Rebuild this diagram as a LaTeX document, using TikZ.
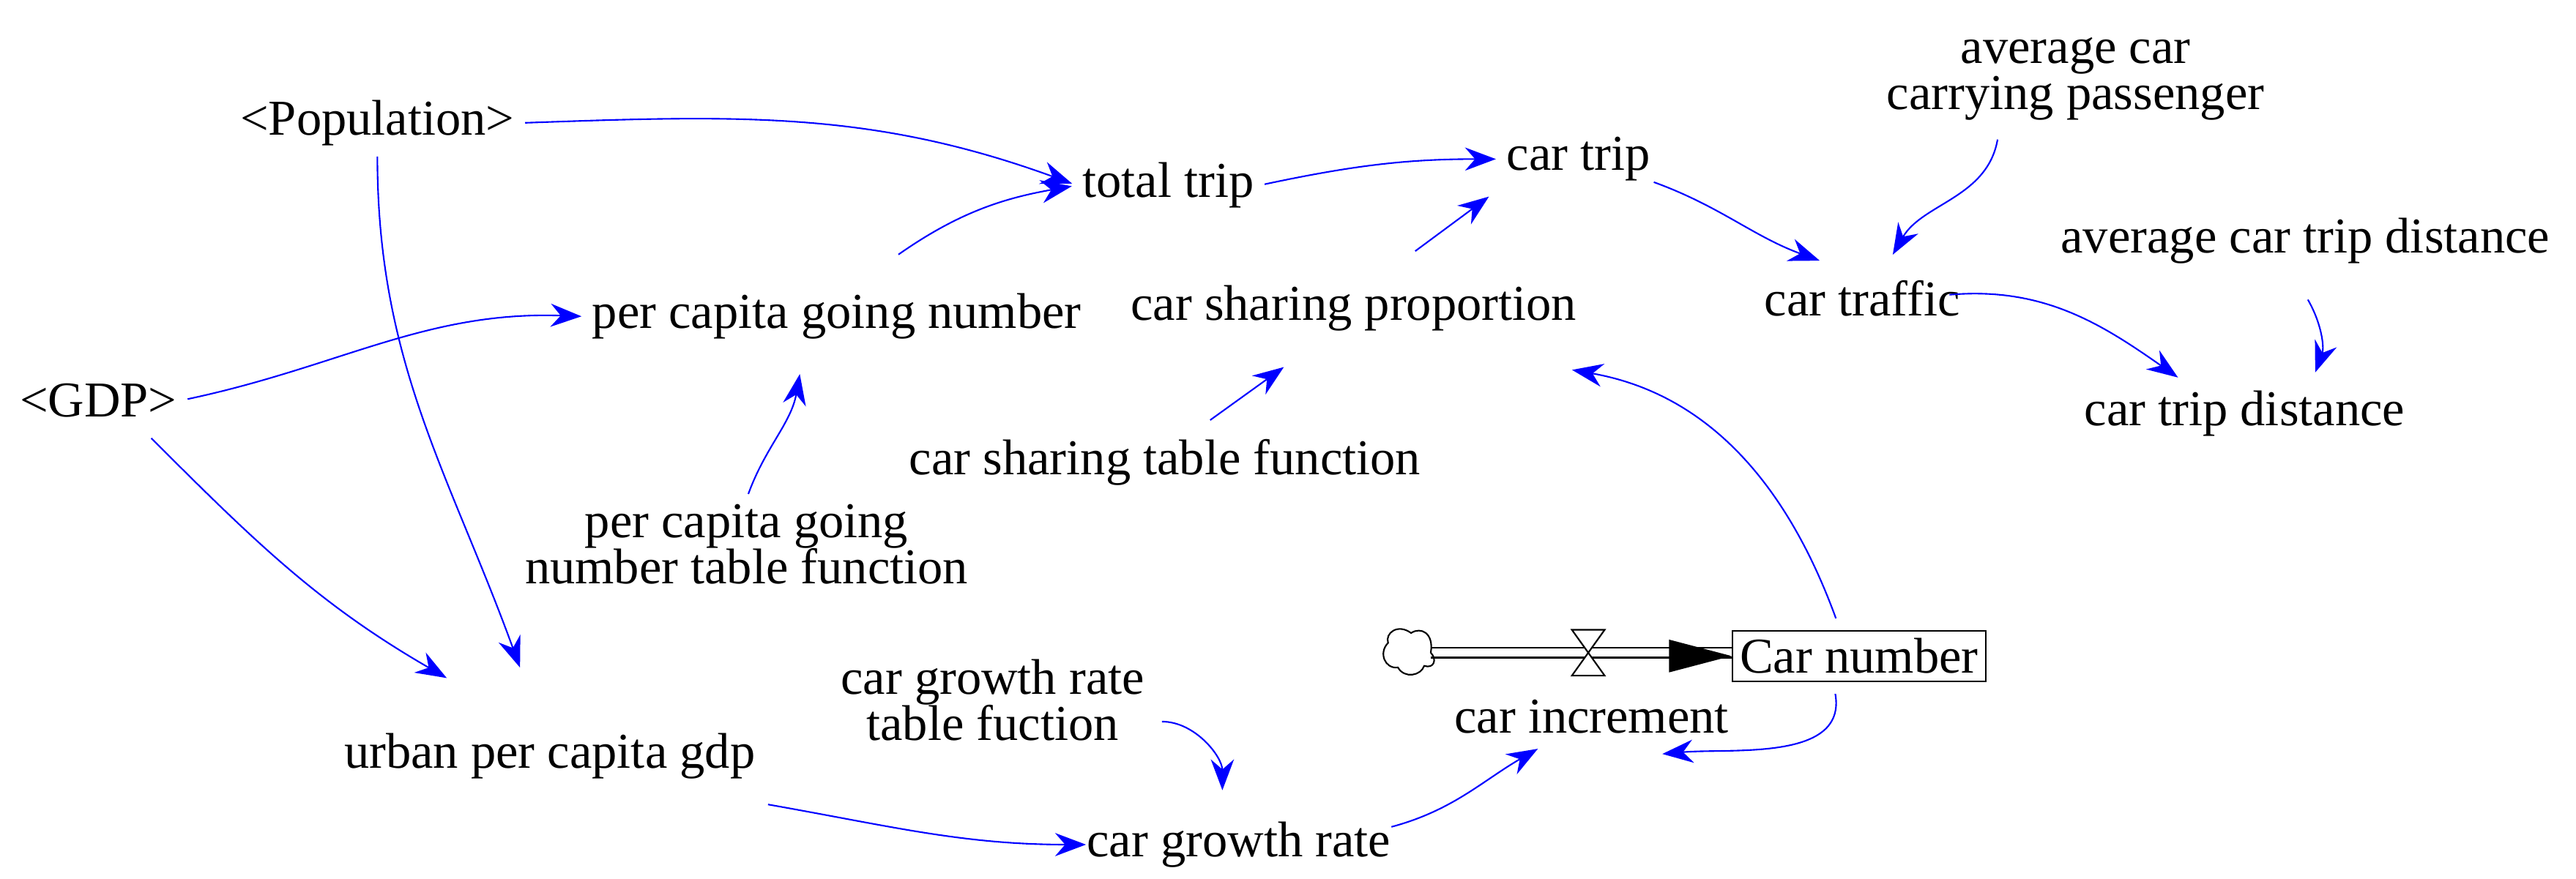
\documentclass[tikz,border=0pt]{standalone}
\usepackage{fontspec}
\setmainfont{Liberation Serif}
\usetikzlibrary{arrows.meta}
\begin{document}
\begin{tikzpicture}[x=0.02241cm,y=-0.02241cm,
  lbl/.style={font=\fontsize{19.5}{22}\selectfont, inner sep=2pt, align=center},
  lk/.style={draw=blue, line width=0.6pt, -{Stealth[length=12pt,width=9pt]}, shorten >=2pt, shorten <=2pt}]
\useasboundingbox (0,0) rectangle (1570,535.6);
\node[lbl] (pop) at (230,75) {<Population>};
\node[lbl] (tt) at (712,113) {total trip};
\node[lbl] (ct) at (962,97) {car trip};
\node[lbl] (acp) at (1265,48) {average car\\[-4pt]carrying passenger};
\node[lbl] (atd) at (1405,147) {average car trip distance};
\node[lbl] (ctr) at (1135,182) {car traffic};
\node[lbl] (ctd) at (1368,252) {car trip distance};
\node[lbl] (pcg) at (510,193) {per capita going number};
\node[lbl] (csp) at (825,188) {car sharing proportion};
\node[lbl] (gdp) at (60,244) {<GDP>};
\node[lbl] (cstf) at (710,282) {car sharing table function};
\node[lbl] (pctf) at (455,332) {per capita going\\[-4pt]number table function};
\node[draw, line width=0.6pt, lbl, minimum width=3.43cm, inner sep=3pt] (cn) at (1133,400) {Car number};
\node[lbl] (ci) at (970,437) {car increment};
\node[lbl] (cgtf) at (605,427) {car growth rate\\[-4pt]table fuction};
\node[lbl] (ug) at (335,461) {urban per capita gdp};
\node[lbl] (cgr) at (755,515) {car growth rate};
% flow
\coordinate (cl) at (872,398);
\draw[line width=0.6pt] (cl) ++(0,-3) -- (cn.west|-0,395);
\draw[line width=0.6pt] (cl) ++(0,3) -- (cn.west|-0,401);
\fill[black] (cn.west) -- ++(-38,-10) -- ++(0,20) -- cycle;
\draw[line width=0.6pt] (872,398) .. controls (874,386) and (866,382) .. (860,386) .. controls (852,380) and (844,386) .. (846,392) .. controls (840,398) and (844,408) .. (852,407) .. controls (856,414) and (866,412) .. (868,406) .. controls (874,408) and (876,402) .. (872,398);
\draw[line width=0.6pt,fill=white] (958,384) -- (978,384) -- (958,412) -- (978,412) -- cycle;
% links
\draw[lk] (pop.east) to[out=2,in=160] (tt.west);
\draw[lk] (pop.south) to[out=-90,in=110] (318,410);
\draw[lk] (gdp.east) to[out=12,in=178] (pcg.west);
\draw[lk] (90,265) to[out=-45,in=150] (275,415);
\draw[lk] (545,157) to[out=35,in=190] (tt.west);
\draw[lk] (pctf.north) to[out=70,in=-100] (488,225);
\draw[lk] (tt.east) to[out=12,in=180] (ct.west);
\draw[lk] (860,155) -- (910,118);
\draw[lk] (735,258) -- (785,222);
\draw[lk] (1005,110) to[out=-20,in=160] (1112,160);
\draw[lk] (1218,82) to[out=-100,in=60] (1152,158);
\draw[lk] (1185,180) to[out=5,in=145] (1330,232);
\draw[lk] (1405,180) to[out=-60,in=70] (1410,230);
\draw[lk] (1120,380) to[out=110,in=-10] (955,225);
\draw[lk] (1118,420) to[out=-80,in=5] (1010,460);
\draw[lk] (705,440) to[out=0,in=90] (745,485);
\draw[lk] (465,490) to[out=-10,in=180] (665,515);
\draw[lk] (845,505) to[out=15,in=-150] (940,455);
\end{tikzpicture}
\end{document}
